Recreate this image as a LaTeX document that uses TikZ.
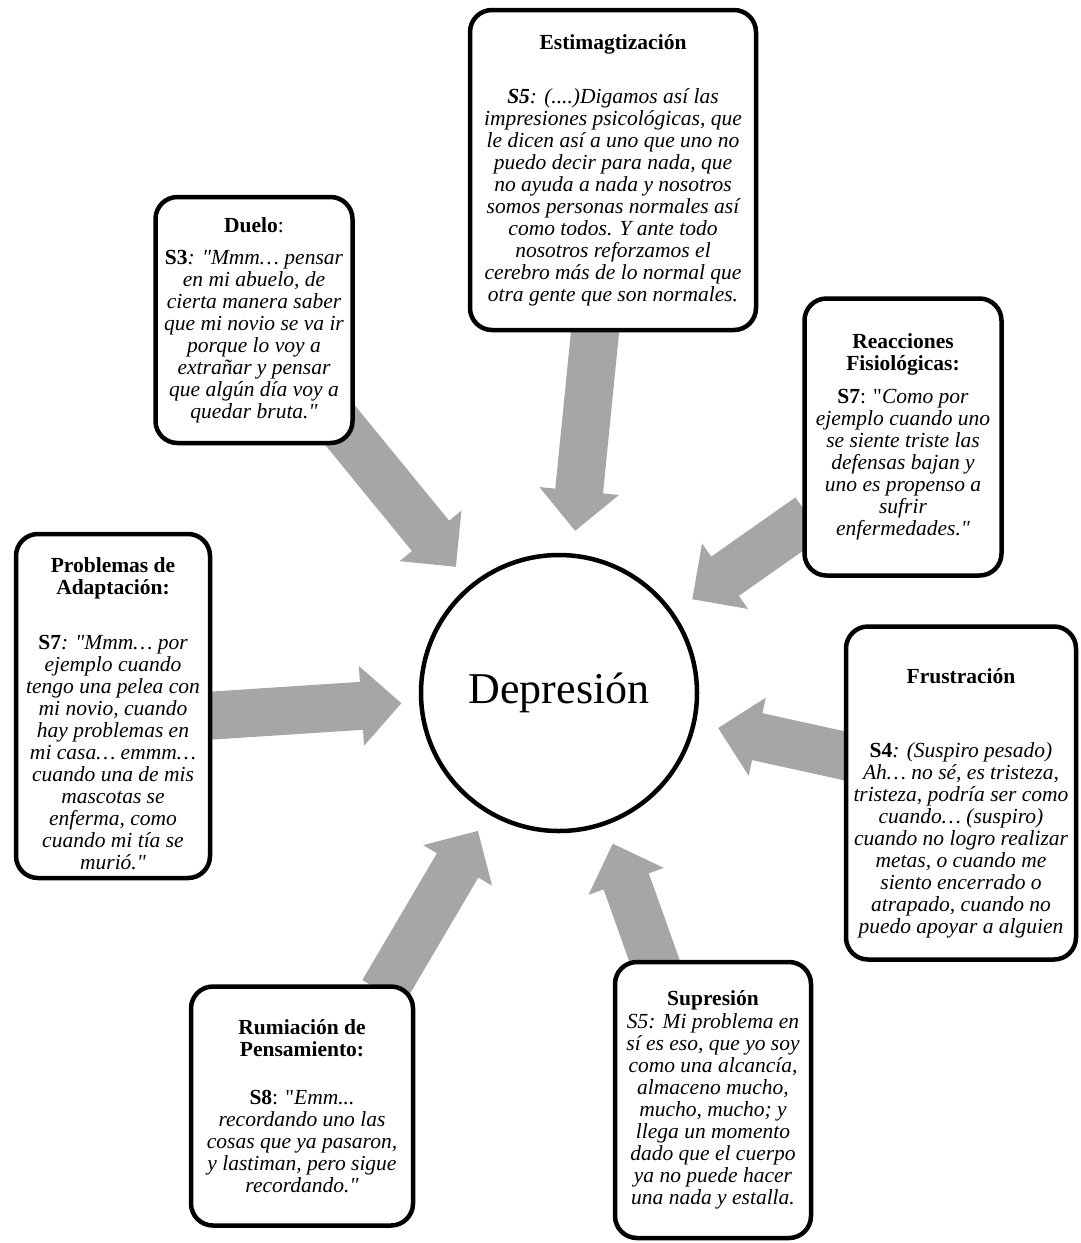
\documentclass[tikz,border=0pt]{standalone}
\usepackage{fontspec}
\setmainfont{Liberation Serif}
\usetikzlibrary{calc,backgrounds}

\definecolor{arrowgray}{RGB}{166,166,166}

\tikzset{
  box/.style={draw, rounded corners=22pt, line width=4.5pt, fill=white,
    align=center, inner sep=0pt, font=\fontsize{21.5}{22}\selectfont\itshape},
  core/.style={draw, circle, line width=4.5pt, fill=white, minimum size=276pt,
    font=\fontsize{44}{50}\selectfont}
}

% straight double quote, no tex mapping
\newcommand{\dq}{{\XeTeXglyph\XeTeXcharglyph"22\relax}}
\newcommand{\boxtitle}[1]{{\bfseries\upshape #1}}
\newcommand{\subj}[1]{\textbf{\upshape #1}}

% gray block arrow from #1 to #2
\newcommand{\blockarrow}[2]{%
  \coordinate (ab) at ($(#2)!40pt!(#1)$);
  \fill[arrowgray] ($(#1)!24pt!90:(#2)$) -- ($(ab)!24pt!-90:(#1)$)
    -- ($(ab)!40pt!-90:(#1)$) -- (#2) -- ($(ab)!40pt!90:(#1)$)
    -- ($(ab)!24pt!90:(#1)$) -- ($(#1)!24pt!-90:(#2)$) -- cycle;
}

\begin{document}
\begin{tikzpicture}[x=1pt,y=-1pt]
\useasboundingbox (0,0) rectangle (1081,1243);

\node[core] (dep) at (559,693) {Depresión};

\node[box, minimum width=286pt, minimum height=320pt] (estig) at (613,170) {%
\boxtitle{Estimagtización}\\[32pt]
\textbf{S5}: (....)Digamos así las\\
impresiones psicológicas, que\\
le dicen así a uno que uno no\\
puedo decir para nada, que\\
no ayuda a nada y nosotros\\
somos personas normales así\\
como todos. Y ante todo\\
nosotros reforzamos el\\
cerebro más de lo normal que\\
otra gente que son normales.};

\node[box, minimum width=197pt, minimum height=246pt] (duelo) at (254,320) {%
\boxtitle{Duelo}\textup{:}\\[10pt]
\subj{S3}: \dq Mmm… pensar\\
en mi abuelo, de\\
cierta manera saber\\
que mi novio se va ir\\
porque lo voy a\\
extrañar y pensar\\
que algún día voy a\\
quedar bruta.\dq};

\node[box, minimum width=197pt, minimum height=277pt] (reac) at (903,437) {%
\boxtitle{Reacciones}\\
\boxtitle{Fisiológicas:}\\[11pt]
\subj{S7}\textup{: \dq}Como por\\
ejemplo cuando uno\\
se siente triste las\\
defensas bajan y\\
uno es propenso a\\
sufrir\\
enfermedades.\dq};

\node[box, minimum width=194pt, minimum height=344pt] (probl) at (113,706) {%
\rule{0pt}{30pt}\boxtitle{Problemas de}\\
\boxtitle{Adaptación:}\\[33pt]
\subj{S7}: \dq Mmm… por\\
ejemplo cuando\\
tengo una pelea con\\
mi novio, cuando\\
hay problemas en\\
mi casa… emmm…\\
cuando una de mis\\
mascotas se\\
enferma, como\\
cuando mi tía se\\
murió.\dq};

\node[box, minimum width=230pt, minimum height=333pt] (frust) at (961,793) {%
\rule{0pt}{35pt}\boxtitle{Frustración}\\[52pt]
\subj{S4}: (Suspiro pesado)\\
Ah… no sé, es tristeza,\\
tristeza, podría ser como\\
cuando… (suspiro)\\
cuando no logro realizar\\
metas, o cuando me\\
siento encerrado o\\
atrapado, cuando no\\
puedo apoyar a alguien};

\node[box, minimum width=222pt, minimum height=239pt] (rum) at (302,1106) {%
\boxtitle{Rumiación de}\\
\boxtitle{Pensamiento:}\\[26pt]
\subj{S8}\textup{: \dq}Emm...\\
recordando uno las\\
cosas que ya pasaron,\\
y lastiman, pero sigue\\
recordando.\dq};

\node[box, minimum width=196pt, minimum height=276pt] (supr) at (713,1100) {%
\boxtitle{Supresión}\\[1pt]
S5: Mi problema en\\
sí es eso, que yo soy\\
como una alcancía,\\
almaceno mucho,\\
mucho, mucho; y\\
llega un momento\\
dado que el cuerpo\\
ya no puede hacer\\
una nada y estalla.};

% arrows into the circle
\coordinate (estig-out) at ($(estig.south)+(-17,-10)$);
\coordinate (duelo-out) at ($(duelo.south east)+(-22,-29)$);
\coordinate (reac-out) at ($(reac.west)+(7,80)$);
\coordinate (probl-out) at ($(probl.east)+(-7,10)$);
\coordinate (frust-out) at ($(frust.west)+(6,-36)$);
\coordinate (rum-out) at ($(rum.north)+(81,8)$);
\coordinate (supr-out) at ($(supr.north)+(-56,8)$);

\coordinate (estig-in) at ($(dep.center)!163pt!(estig-out)$);
\coordinate (duelo-in) at ($(dep.center)!163pt!(duelo-out)$);
\coordinate (reac-in) at ($(dep.center)!163pt!(reac-out)$);
\coordinate (probl-in) at ($(dep.center)!158pt!(probl-out)$);
\coordinate (frust-in) at ($(dep.center)!163pt!(frust-out)$);
\coordinate (rum-in) at ($(dep.center)!160pt!(rum-out)$);
\coordinate (supr-in) at ($(dep.center)!160pt!(supr-out)$);

\begin{scope}[on background layer]
\blockarrow{estig-out}{estig-in}
\blockarrow{duelo-out}{duelo-in}
\blockarrow{reac-out}{reac-in}
\blockarrow{probl-out}{probl-in}
\blockarrow{frust-out}{frust-in}
\blockarrow{rum-out}{rum-in}
\blockarrow{supr-out}{supr-in}
\end{scope}
\end{tikzpicture}
\end{document}
